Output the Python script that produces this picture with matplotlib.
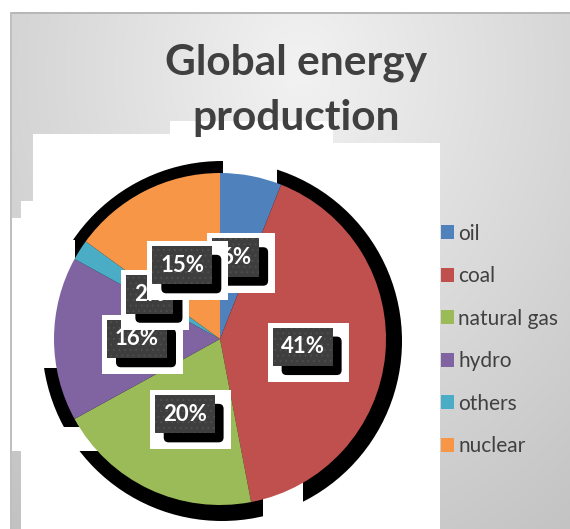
import numpy as np
import matplotlib
matplotlib.use("Agg")
from matplotlib import pyplot as plt
from matplotlib.patches import Rectangle, Circle, FancyBboxPatch

categories = ["oil", "coal", "natural gas", "hydro", "others", "nuclear"]
shares = [6, 41, 20, 16, 2, 15]
colours = ["#4F81BD", "#C0504D", "#9BBB59", "#8064A2", "#4BACC6", "#F79646"]
title_lines = ["Global energy", "production"]

W, H = 570, 529
plt.rcParams["hatch.linewidth"] = 0.6


def sy(y):
    # screen y (from top) -> data y (from bottom)
    return H - y


fig = plt.figure(figsize=(W / 100, H / 100), dpi=100)
ax = fig.add_axes([0, 0, 1, 1])
ax.set_xlim(0, W)
ax.set_ylim(0, H)
ax.axis("off")

# chart area gradient (grey, lighter near the title)
yy, xx = np.mgrid[0:H, 0:W]
d = np.hypot((xx - 300) / 420, (yy - 70) / 520)
shade = np.clip(0.95 - 0.17 * d, 0.76, 0.95)
img = np.dstack([shade] * 3)
img[:12, :] = 1.0
img[:, :10] = 1.0
img[12:14, 10:] = 0.72
img[12:, 10:12] = 0.75
ax.imshow(img, extent=[0, W, 0, H], origin="upper", zorder=0, interpolation="nearest")

# white plot-area patches (odd Excel repaint)
white_blocks = [(33, 143, 440, 529), (33, 134, 333, 143), (170, 121, 333, 134),
                (21, 201, 33, 529), (12, 218, 21, 451)]
for x0, y0, x1, y1 in white_blocks:
    ax.add_patch(Rectangle((x0, sy(y1)), x1 - x0, y1 - y0, color="white", zorder=1, lw=0))

# black shadow behind the pie, with gaps
ax.add_patch(Circle((222, sy(341)), 180, color="black", zorder=2, lw=0))
gaps = [(21, 240, 75, 368), (12, 427, 100, 451), (223, 150, 277, 186), (263, 470, 303, 529)]
for x0, y0, x1, y1 in gaps:
    ax.add_patch(Rectangle((x0, sy(y1)), x1 - x0, y1 - y0, color="white", zorder=3, lw=0))

wedges, _, autotexts = ax.pie(shares, colors=colours, startangle=90, counterclock=False,
                              center=(220, sy(339)), radius=166, autopct="%1.0f%%",
                              pctdistance=0.5, wedgeprops=dict(linewidth=0, zorder=4),
                              textprops=dict(color="white", fontsize=16, fontweight="bold",
                                             family="Lato"))
ax.set_xlim(0, W)
ax.set_ylim(0, H)
for w in wedges:
    w.set_zorder(4)

fig.canvas.draw()
renderer = fig.canvas.get_renderer()
for i, t in enumerate(autotexts):
    z = 10 + i * 2
    t.set_zorder(z + 1)
    t.set_va("center")
    t.set_ha("center")
    bb = t.get_window_extent(renderer)
    cx, cy = t.get_position()
    bw = bb.width + 16
    bh = 38.5
    bx, byy = cx - bw / 2, cy - bh / 2
    # white frame
    ax.add_patch(Rectangle((bx - 5, byy - 9 - 7), bw + 9 + 12, bh + 5 + 9 + 7,
                           color="white", lw=0, zorder=z))
    # rounded black shadow
    ax.add_patch(FancyBboxPatch((bx + 9 + 5, byy - 9 + 5), bw - 10, bh - 10,
                                boxstyle="round,pad=5", fc="black", ec="none", zorder=z))
    # dark dotted box
    ax.add_patch(Rectangle((bx, byy), bw, bh, fc="#3e3e3e", ec="#505050", hatch="...",
                           lw=0, zorder=z + 0.5))

for line, base in zip(title_lines, [75, 130]):
    ax.text(296, sy(base), line, ha="center", va="baseline", fontsize=30.5,
            fontweight="bold", color="#404040", family="Lato", zorder=5)

leg = ax.legend(wedges, categories, loc="upper left", bbox_to_anchor=(422, sy(205)),
                bbox_transform=ax.transData, frameon=False, handlelength=0.65,
                handleheight=0.65, handletextpad=0.2, labelspacing=1.08,
                prop=dict(family="Lato", size=15))
for txt in leg.get_texts():
    txt.set_color("#404040")

fig.savefig("out.png", dpi=100)
plt.close(fig)
